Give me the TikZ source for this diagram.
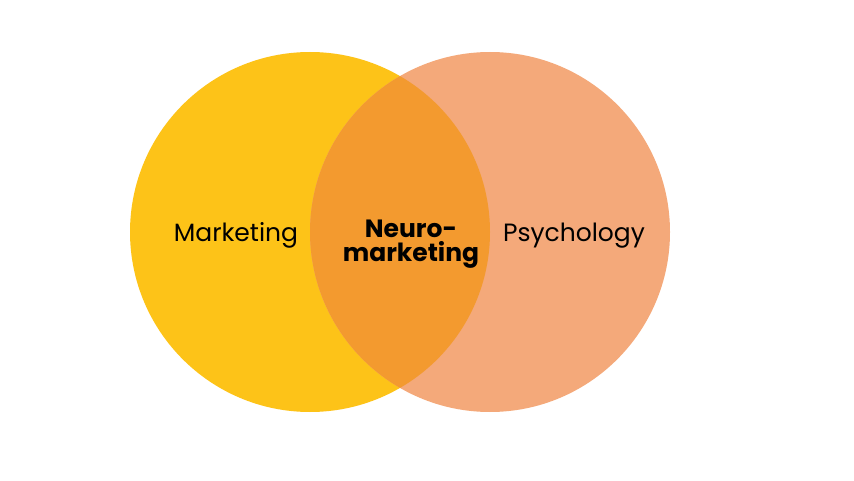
\documentclass[tikz,border=0pt]{standalone}
\usepackage{fontspec}
\setmainfont{Poppins}
\usepackage{tikz}
\usetikzlibrary{positioning}
\definecolor{mktyellow}{HTML}{FDC318}
\definecolor{psysalmon}{HTML}{F4A97A}
\definecolor{neuroorange}{HTML}{F39A2F}
\tikzstyle{venn} = [circle, minimum size=360pt, inner sep=0pt]
\tikzstyle{tag} = [font=\fontsize{25}{24}\selectfont, text=black, anchor=base, inner sep=0pt]

\begin{document}
\begin{tikzpicture}[x=1pt, y=1pt]
	\useasboundingbox (0,0) rectangle (854,480);
	\node [venn, fill=mktyellow] (mkt) at (310,248) {};
	\node [venn, fill=psysalmon] (psy) at (490,248) {};
	\begin{scope}
		\clip (mkt.center) circle (180pt);
		\fill [neuroorange] (psy.center) circle (180pt);
	\end{scope}
	\node [tag] (mktlabel) at (236,239) {Marketing};
	\node [tag] (psylabel) at (574,239) {Psychology};
	\node [tag, font=\fontsize{25}{24}\selectfont\bfseries, align=center, anchor=center] (neuro) at (411,236) {Neuro-\\marketing};
\end{tikzpicture}
\end{document}
